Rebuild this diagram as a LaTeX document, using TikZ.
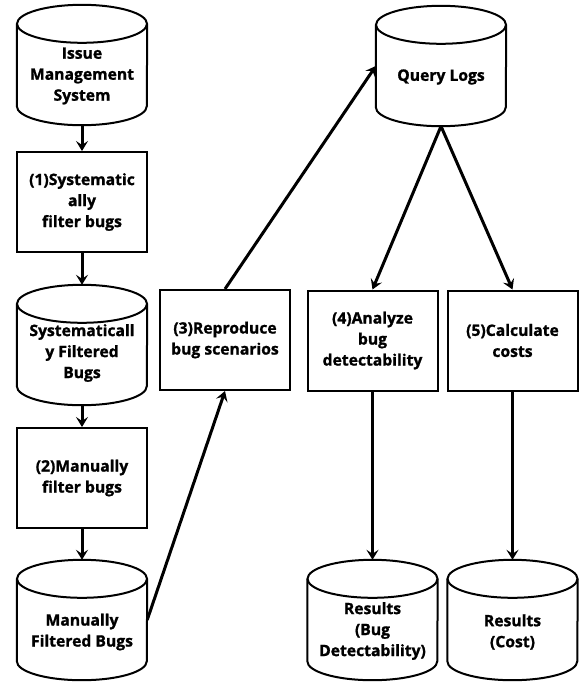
\documentclass[tikz,border=0pt]{standalone}
\usepackage{fontspec}
\setmainfont{Open Sans}[BoldFeatures={FakeBold=1.2}]
\usetikzlibrary{arrows.meta}
\tikzset{
  x=1pt,y=1pt,
  proc/.style={draw, line width=2pt, minimum width=130pt, minimum height=100pt, align=center, inner sep=0pt, font=\bfseries\fontsize{15.7}{21}\selectfont},
  db/.style={minimum width=130pt, minimum height=120pt, inner sep=0pt},
  dbtext/.style={align=center, font=\bfseries\fontsize{15.7}{21}\selectfont},
  arr/.style={line width=3pt, -{Stealth[length=10pt,width=12pt,inset=4pt]}},
}
\newcommand{\mycyl}[1]{%
  \draw[line width=2pt] ([yshift=-19pt]#1.north) ellipse[x radius=65pt, y radius=19pt];
  \draw[line width=2pt] ([yshift=-19pt]#1.north west) -- ([yshift=19pt]#1.south west)
     arc[start angle=180, end angle=360, x radius=65pt, y radius=19pt]
     -- ([yshift=-19pt]#1.north east);
}
\begin{document}
\begin{tikzpicture}
\useasboundingbox (0,0) rectangle (584,-683);
\fill[white] (0,0) rectangle (584,-683);
% left column
\node[db] (ims) at (82,-65) {};
\mycyl{ims}
\node[dbtext] at (82,-76) {Issue\\Management\\System};
\node[proc] (f1) at (82,-202) {(1)Systematic\\ally\\filter bugs};
\node[db] (sfb) at (82,-345) {};
\mycyl{sfb}
\node[dbtext] at (82,-353) {Systematicall\\y Filtered\\Bugs};
\node[proc] (f2) at (82,-478) {(2)Manually\\filter bugs};
\node[db] (mfb) at (82,-620) {};
\mycyl{mfb}
\node[dbtext] at (82,-632) {Manually\\Filtered Bugs};
% middle
\node[proc] (rep) at (225,-340) {(3)Reproduce\\bug scenarios};
% right
\node[db] (ql) at (441,-66) {};
\mycyl{ql}
\node[dbtext] at (441,-77) {Query Logs};
\node[proc] (an) at (372.5,-340.5) {(4)Analyze\\bug\\detectability};
\node[proc] (cc) at (512.5,-340.5) {(5)Calculate\\costs};
\node[db] (rb) at (372.5,-620) {};
\mycyl{rb}
\node[dbtext] at (372.5,-631) {Results\\(Bug\\Detectability)};
\node[db] (rc) at (512.5,-620) {};
\mycyl{rc}
\node[dbtext] at (512.5,-632) {Results\\(Cost)};
% connectors
\draw[arr] (ims.south) -- (f1.north);
\draw[arr] (f1.south) -- (sfb.north);
\draw[arr] (sfb.south) -- (f2.north);
\draw[arr] (f2.south) -- (mfb.north);
\draw[arr] (mfb.east) -- (rep.south);
\draw[arr] (rep.north) -- (ql.west);
\draw[arr] (ql.south) -- (an.north);
\draw[arr] (ql.south) -- (cc.north);
\draw[arr] (an.south) -- (rb.north);
\draw[arr] (cc.south) -- (rc.north);
\end{tikzpicture}
\end{document}
